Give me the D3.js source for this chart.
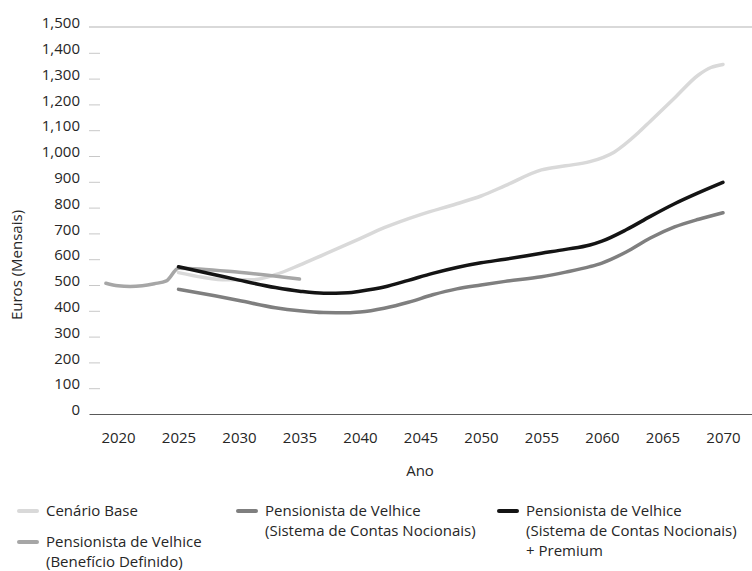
<!DOCTYPE html>
<html>
<head>
<meta charset="utf-8">
<script src="https://cdn.jsdelivr.net/npm/d3@7"></script>
<style>
  body { margin: 0; background: #fff; }
  svg { display: block; font-family: "Open Sans", sans-serif; }
  text { fill: #262626; }
</style>
</head>
<body>
<svg id="chart" width="752" height="571"></svg>
<script>
// ---- Data ----
const yTicks = [0,100,200,300,400,500,600,700,800,900,1000,1100,1200,1300,1400,1500];
const xTicks = [2020,2025,2030,2035,2040,2045,2050,2055,2060,2065,2070];

const baseYears  = [2025,2027,2029,2031,2033,2035,2037,2040,2042,2045,2048,2050,2052,2055,2057,2059,2061,2063,2064,2066,2068,2069,2070];
const baseValues = [548, 530, 520, 520, 540, 577, 618, 680, 722, 773, 815, 845, 885, 946, 962, 978, 1015,1090,1135,1225,1315,1343,1355];

const dbYears  = [2019,2020,2021,2022,2023,2024,2025,2030,2035];
const dbValues = [507, 497, 494, 497, 505, 516, 565, 549, 523];

const ndcYears  = [2025,2028,2030,2033,2035,2037,2039,2040,2042,2044,2046,2048,2050,2052,2055,2057,2059,2060,2062,2064,2066,2068,2070];
const ndcValues = [483, 458, 440, 412, 400, 393, 392, 395, 410, 433, 462, 485, 500, 514, 532, 550, 571, 585, 628, 682, 725, 755, 780];

const premYears  = [2025,2028,2030,2033,2035,2037,2039,2040,2042,2044,2046,2048,2050,2052,2055,2057,2059,2060,2062,2064,2066,2068,2070];
const premValues = [571, 540, 519, 490, 476, 468, 470, 476, 492, 518, 545, 568, 586, 600, 623, 638, 655, 670, 714, 766, 815, 858, 898];

const seriesNames = ["Cenário Base", "Pensionista de Velhice\n(Benefício Definido)", "Pensionista de Velhice\n(Sistema de Contas Nocionais)", "Pensionista de Velhice\n(Sistema de Contas Nocionais)\n+ Premium"];
const seriesColors = ["#d9d9d9", "#a6a6a6", "#7f7f7f", "#141414"];

const series = [
  {name: seriesNames[0], color: seriesColors[0], pts: baseYears.map((yr,i)=>({x:yr, v:baseValues[i]}))},
  {name: seriesNames[1], color: seriesColors[1], pts: dbYears.map((yr,i)=>({x:yr, v:dbValues[i]}))},
  {name: seriesNames[2], color: seriesColors[2], pts: ndcYears.map((yr,i)=>({x:yr, v:ndcValues[i]}))},
  {name: seriesNames[3], color: seriesColors[3], pts: premYears.map((yr,i)=>({x:yr, v:premValues[i]}))}
];

// ---- Layout ----
const svg = d3.select("#chart");
const mLeft = 89, mRight = 752, mTop = 27, mBottom = 414;
const x = d3.scaleLinear().domain([2017.6, 2072.4]).range([mLeft, mRight]);
const y = d3.scaleLinear().domain([0, 1500]).range([mBottom, mTop]);

// top gridline
svg.append("line")
  .attr("x1", mLeft).attr("x2", mRight)
  .attr("y1", y(1500)).attr("y2", y(1500))
  .attr("stroke", "#b3b3b3").attr("stroke-width", 1);

// y axis ticks + labels
const yAxis = d3.axisLeft(y).tickValues(yTicks).tickFormat(d3.format(",")).tickSize(0).tickPadding(0);
const gy = svg.append("g").attr("transform", `translate(${mLeft},0)`).call(yAxis);
gy.select(".domain").remove();
gy.selectAll(".tick text")
  .attr("x", -9).attr("dy", "0.05em")
  .style("font-size", "15px").style("font-family", "'Open Sans', sans-serif")
  .attr("fill", "#262626");
gy.selectAll(".tick").filter(d => d > 0 && d < 1500).append("line")
  .attr("x1", 0).attr("x2", 11).attr("stroke", "#c8c8c8").attr("stroke-width", 1);

// x axis
const xAxis = d3.axisBottom(x).tickValues(xTicks).tickFormat(d3.format("d")).tickSize(0).tickPadding(0);
const gx = svg.append("g").attr("transform", `translate(0,${mBottom})`).call(xAxis);
gx.select(".domain").attr("stroke", "#595959").attr("stroke-width", 1.2);
gx.selectAll(".tick text")
  .attr("y", 29).attr("dy", 0)
  .style("font-size", "15px").style("font-family", "'Open Sans', sans-serif")
  .attr("fill", "#262626");

// axis titles
svg.append("text").attr("x", 420).attr("y", 476).attr("text-anchor", "middle")
  .style("font-size", "15px").text("Ano");
svg.append("text").attr("transform", "translate(22,265) rotate(-90)").attr("text-anchor", "middle")
  .style("font-size", "15px").text("Euros (Mensais)");

// lines
const line = d3.line().x(d => x(d.x)).y(d => y(d.v)).curve(d3.curveMonotoneX);
svg.append("g").selectAll("path").data(series).join("path")
  .attr("d", d => line(d.pts))
  .attr("fill", "none")
  .attr("stroke", d => d.color)
  .attr("stroke-width", 3.5)
  .attr("stroke-linecap", "round")
  .attr("stroke-linejoin", "round");

// legend
const legendPos = [
  {sx: 19, tx: 46, cy: 511},
  {sx: 19, tx: 46, cy: 542},
  {sx: 238, tx: 265, cy: 511},
  {sx: 499, tx: 526, cy: 511}
];
const lg = svg.append("g");
series.forEach((s, i) => {
  const p = legendPos[i];
  lg.append("line").attr("x1", p.sx).attr("x2", p.sx + 18)
    .attr("y1", p.cy).attr("y2", p.cy)
    .attr("stroke", s.color).attr("stroke-width", 4).attr("stroke-linecap", "round");
  const t = lg.append("text").attr("x", p.tx).attr("y", p.cy + 5).style("font-size", "15px");
  s.name.split("\n").forEach((ln, j) => {
    t.append("tspan").attr("x", p.tx).attr("dy", j === 0 ? 0 : 20).text(ln);
  });
});
</script>
</body>
</html>
